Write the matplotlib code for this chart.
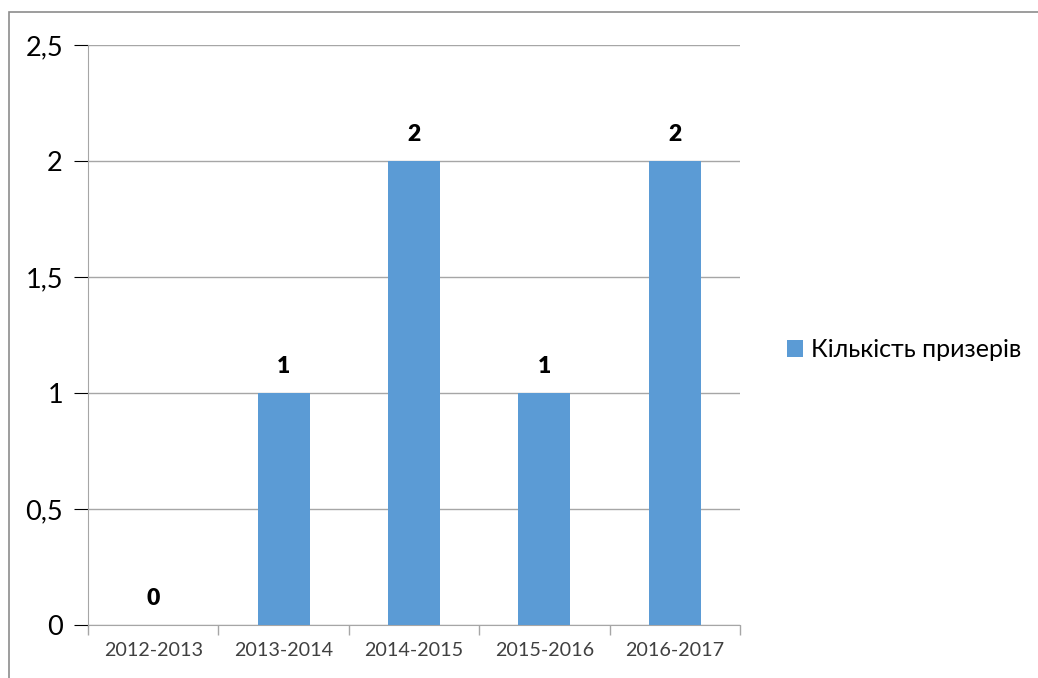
import matplotlib
matplotlib.use("Agg")
import matplotlib.pyplot as plt
from matplotlib.patches import Rectangle
from matplotlib.ticker import FuncFormatter

seasons = ["2012-2013", "2013-2014", "2014-2015", "2015-2016", "2016-2017"]
winners = [0, 1, 2, 1, 2]
series_name = "Кількість призерів"

plt.rcParams['font.family'] = ['Lato', 'DejaVu Sans']

fig = plt.figure(figsize=(10.38, 6.78), dpi=100)
ax = fig.add_axes([88 / 1038, 53 / 678, 652 / 1038, 580 / 678])

bar_color = '#5B9BD5'
grid_color = '#A6A6A6'

x = range(len(seasons))
bars = ax.bar(x, winners, width=0.4, color=bar_color, zorder=3, label=series_name)

for xi, v in zip(x, winners):
    ax.text(xi, v + 0.07, str(v), ha='center', va='bottom',
            fontsize=16.5, fontweight='heavy', color='black')

ax.set_xlim(-0.5, len(seasons) - 0.5)
ax.set_ylim(0, 2.5)
ax.set_yticks([0, 0.5, 1, 1.5, 2, 2.5])
ax.yaxis.set_major_formatter(FuncFormatter(lambda v, p: ('%g' % v).replace('.', ',')))
ax.set_xticks(list(x))
ax.set_xticklabels(seasons)

ax.tick_params(axis='y', length=10, color=grid_color, labelsize=19.5, pad=8)
ax.tick_params(axis='x', length=0, labelsize=14.2, pad=12, colors='#404040')
ax.tick_params(axis='y', colors='black')
ax.set_xticks([i - 0.5 for i in range(len(seasons) + 1)], minor=True)
ax.tick_params(axis='x', which='minor', length=7, color=grid_color, width=1)

ax.grid(axis='y', color=grid_color, linewidth=1, zorder=0)
for s in ['top', 'right']:
    ax.spines[s].set_visible(False)
ax.spines['left'].set_color(grid_color)
ax.spines['bottom'].set_color(grid_color)

leg = fig.legend(handles=[bars], labels=[series_name], loc='center left',
                 bbox_to_anchor=(787 / 1038, 1 - 350 / 678), frameon=False,
                 borderaxespad=0, borderpad=0,
                 fontsize=18, handlelength=0.65, handleheight=0.65, handletextpad=0.3)

# outer chart frame
fig.add_artist(Rectangle((9 / 1038, -0.05), 1.2, (678 - 12) / 678 + 0.05,
                         transform=fig.transFigure, fill=False,
                         edgecolor='#8C8C8C', linewidth=1.2))

fig.savefig('out.png', dpi=100)
